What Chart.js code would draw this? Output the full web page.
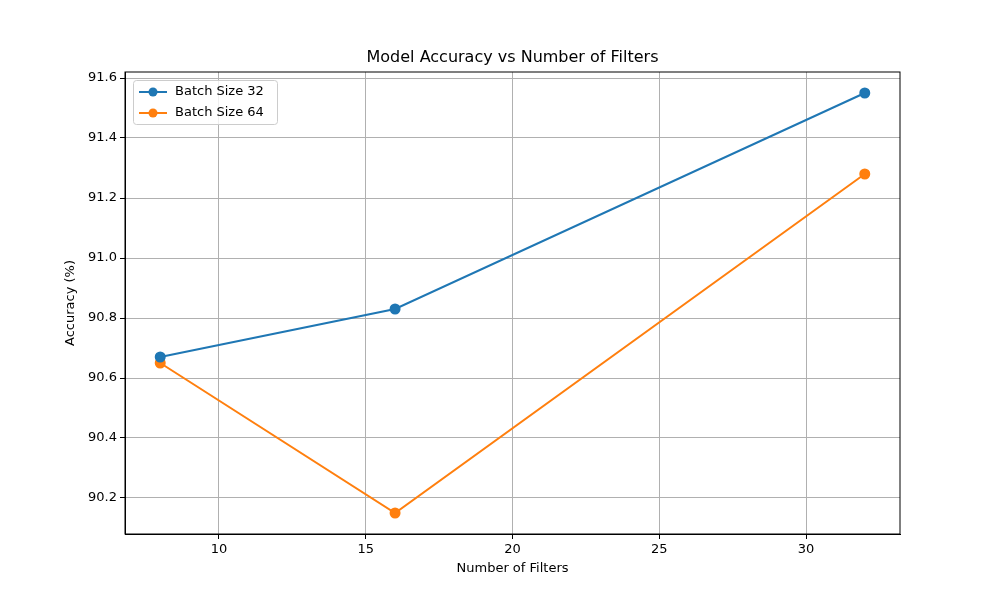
<!DOCTYPE html>
<html><head><script src="https://cdn.jsdelivr.net/npm/chart.js@4"></script>
<style>body{margin:0;background:#fff}#w{width:1000px;height:600px}</style></head>
<body><div id="w"><canvas id="c"></canvas></div>
<script>
const filters=[8,16,32];
const batch32=[90.67,90.83,91.55];
const batch64=[90.65,90.15,91.28];
const xTicks=[10,15,20,25,30];
const yTicks=[90.2,90.4,90.6,90.8,91.0,91.2,91.4,91.6];
const seriesNames=['Batch Size 32','Batch Size 64'];
const colors=['#1f77b4','#ff7f0e'];
const titleText='Model Accuracy vs Number of Filters', xLabel='Number of Filters', yLabel='Accuracy (%)';
const font='DejaVu Sans';
const legendPlugin={id:'lg',afterDraw(ch){const a=ch.chartArea,c=ch.ctx;const x=a.left+8,y=a.top+8;c.save();
c.fillStyle='rgba(255,255,255,0.8)';c.strokeStyle='#ccc';c.lineWidth=1;
c.beginPath();c.roundRect(x+0.5,y+0.5,144,44,3);c.fill();c.stroke();
c.font='13px '+font;c.textBaseline='middle';
seriesNames.forEach((n,i)=>{const yy=y+12+i*21;c.strokeStyle=colors[i];c.lineWidth=2;c.beginPath();c.moveTo(x+6,yy);c.lineTo(x+34,yy);c.stroke();
c.fillStyle=colors[i];c.beginPath();c.arc(x+20,yy,4.5,0,7);c.fill();c.fillStyle='#000';c.fillText(n,x+42,yy);});
c.restore();}};
const textPlugin={id:'tx',afterDraw(ch){const a=ch.chartArea,c=ch.ctx;c.save();c.fillStyle='#000';c.textAlign='center';c.textBaseline='middle';
const cx=(a.left+a.right)/2;
c.font='16px '+font;c.fillText(titleText,cx,a.top-14);
c.font='13px '+font;c.fillText(xLabel,cx,a.bottom+35);
c.translate(a.left-54,(a.top+a.bottom)/2);c.rotate(-Math.PI/2);c.fillText(yLabel,0,0);
c.restore();
c.save();c.strokeStyle='#000';c.lineWidth=1;c.strokeRect(a.left,a.top,a.right-a.left,a.bottom-a.top);c.restore();}};
new Chart(document.getElementById('c'),{type:'line',
data:{datasets:[batch32,batch64].map((d,i)=>({label:seriesNames[i],data:d.map((v,j)=>({x:filters[j],y:v})),borderColor:colors[i],backgroundColor:colors[i],borderWidth:2,pointRadius:4.5,pointHoverRadius:4.5,tension:0}))},
options:{responsive:true,maintainAspectRatio:false,animation:false,
layout:{padding:{left:0,right:100,top:72,bottom:0}},
plugins:{legend:{display:false},tooltip:{enabled:false},title:{display:false}},
scales:{
x:{type:'linear',min:6.8,max:33.2,afterBuildTicks(s){s.ticks=xTicks.map(v=>({value:v}));},afterFit(s){s.height=66;},
grid:{color:'#b0b0b0',tickColor:'#000',tickLength:5},border:{color:'#000'},
ticks:{color:'#000',font:{family:font,size:13},maxRotation:0}},
y:{min:90.08,max:91.62,afterBuildTicks(s){s.ticks=yTicks.map(v=>({value:v}));},afterFit(s){s.width=125;},
grid:{color:'#b0b0b0',tickColor:'#000',tickLength:5},border:{color:'#000'},
ticks:{color:'#000',font:{family:font,size:13},callback:v=>v.toFixed(1)}}}},
plugins:[legendPlugin,textPlugin]});
</script></body></html>
